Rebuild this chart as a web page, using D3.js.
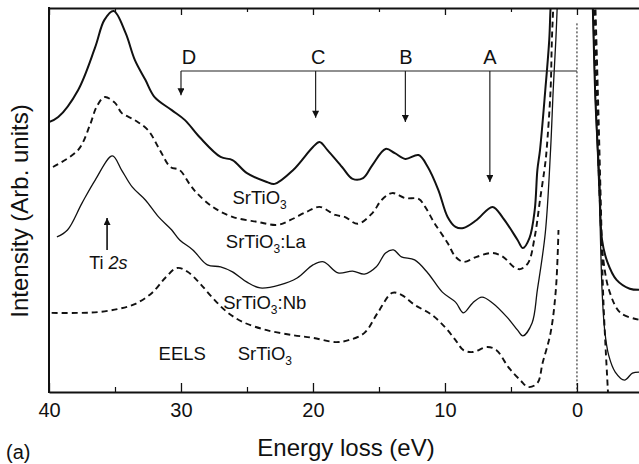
<!DOCTYPE html>
<html>
<head>
<meta charset="utf-8">
<script src="https://cdn.jsdelivr.net/npm/d3@7"></script>
<style>
  html, body { margin: 0; padding: 0; background: #fff; }
  svg { display: block; font-family: "Liberation Sans", Arial, Helvetica, sans-serif; }
</style>
</head>
<body>
<svg id="chart" width="639" height="464"></svg>
<script>
"use strict";

// ── data (energy loss in eV, intensity in arb. units 0..100) ─────────────────

const pureE = [40.0, 39.3, 37.8, 36.5, 35.8, 35.1, 34.2, 33.5, 32.7, 32.0, 30.7, 29.7, 28.6, 27.0,
  26.1, 25.0, 23.5, 22.9, 21.5, 20.0, 19.5, 18.9, 17.8, 17.0, 16.2, 15.5, 14.5, 13.8, 13.0, 12.0,
  11.3, 10.5, 9.8, 9.2, 8.6, 7.6, 6.4, 5.6, 4.5, 4.1, 3.6, 3.2, 3.0, 2.8, 2.4, 2.1, 2.0, 1.8,
  -1.1, -1.2, -1.4, -1.7, -1.9, -2.3, -3.0, -4.0, -4.7];
const pureI = [70.3, 71.6, 78.6, 89.8, 96.9, 99.2, 93.5, 86.5, 81.3, 76.8, 73.4, 70.8, 66.4, 61.2,
  60.4, 57.0, 54.7, 54.2, 57.8, 63.8, 65.1, 63.0, 58.6, 55.5, 55.7, 59.1, 63.3, 62.2, 60.7, 61.7,
  58.6, 52.6, 45.6, 43.0, 42.7, 44.8, 48.2, 45.3, 39.6, 37.5, 40.1, 47.4, 57.8, 63.0, 78.6, 91.7, 100, 110,
  110, 100, 76.0, 55.2, 39.6, 33.9, 29.2, 26.9, 26.6];

const laE = [39.7, 37.8, 36.9, 36.4, 35.8, 35.0, 34.5, 33.5, 32.5, 31.6, 30.8, 30.1, 29.3, 28.8,
  27.6, 26.1, 24.2, 22.7, 21.7, 20.5, 19.5, 18.3, 17.6, 16.6, 15.5, 14.8, 14.0, 13.0, 12.0, 11.5,
  10.8, 9.8, 9.2, 8.6, 7.6, 6.4, 5.6, 4.8, 4.3, 3.7, 3.2, 2.8, 2.4, 2.3, 2.0, 1.9, 1.8, 1.7,
  -1.2, -1.3, -1.5, -1.7, -2.0, -2.5, -3.3, -4.7];
const laI = [58.6, 63.0, 69.5, 74.2, 76.8, 75.3, 72.7, 70.8, 68.2, 63.0, 58.6, 57.8, 53.9, 51.8,
  48.2, 45.6, 44.3, 43.5, 44.8, 46.9, 48.2, 46.1, 45.6, 43.8, 46.6, 50.0, 51.8, 50.5, 50.3, 48.2,
  44.0, 38.8, 35.2, 33.9, 35.2, 36.2, 35.2, 32.6, 32.0, 33.6, 40.4, 50.0, 59.6, 63.0, 78.6, 91.7, 100, 110,
  110, 100, 76.0, 52.6, 34.4, 25.8, 20.6, 18.8];

const nbE = [39.4, 38.6, 37.5, 36.5, 35.2, 34.5, 33.7, 32.7, 31.7, 30.7, 30.1, 29.1, 28.0, 27.0,
  26.1, 25.0, 24.0, 22.5, 21.2, 20.0, 19.2, 18.1, 17.0, 16.1, 15.2, 14.5, 13.9, 13.3, 12.3, 11.3,
  10.2, 9.2, 8.6, 7.9, 7.2, 6.4, 5.3, 4.5, 4.1, 3.4, 3.0, 2.4, 2.0, 1.8, 1.6, 1.5, 1.4,
  -1.1, -1.2, -1.4, -1.7, -1.9, -2.1, -2.4, -2.9, -3.6, -4.2, -4.7];
const nbI = [40.4, 42.2, 49.2, 55.2, 61.5, 57.8, 53.4, 50.0, 45.6, 42.2, 39.6, 37.0, 33.1, 32.6,
  31.3, 28.6, 27.1, 27.9, 29.7, 33.1, 33.9, 31.0, 31.5, 30.7, 32.6, 36.2, 37.0, 35.2, 34.4, 31.0,
  26.0, 23.4, 20.6, 23.2, 24.7, 23.2, 19.5, 16.1, 14.6, 18.0, 26.6, 41.4, 63.0, 78.6, 91.7, 100, 110,
  110, 100, 76.0, 50.0, 26.6, 16.1, 9.6, 5.2, 3.1, 4.9, 5.2];

// EELS: left branch stops below the zero-loss peak (null marks the break)
const eelsE = [39.8, 37.8, 36.3, 34.8, 33.5, 32.2, 31.2, 30.3, 29.5, 28.6, 27.6, 26.5, 25.3, 23.5,
  21.5, 20.0, 18.3, 17.3, 16.1, 15.1, 14.0, 13.3, 12.3, 11.0, 10.0, 9.2, 8.6, 7.9, 6.8, 6.1,
  5.2, 4.3, 3.7, 3.0, 2.6, 2.0, 1.6, 1.4, null,
  -1.3, -1.4, -1.6, -1.8, -2.0, -2.3, -2.35];
const eelsI = [20.6, 20.6, 20.8, 21.6, 22.9, 25.8, 29.7, 32.3, 31.3, 28.4, 24.5, 20.8, 18.2, 16.1,
  14.8, 14.1, 13.0, 13.5, 15.4, 20.6, 25.8, 25.3, 22.7, 20.1, 16.9, 13.5, 10.9, 10.4, 11.7, 10.9,
  6.5, 3.1, 1.3, 2.3, 7.6, 15.4, 26.6, 42.2, null,
  110, 100, 76.0, 50.0, 24.0, 3.1, 0];

const xTicks      = [40, 30, 20, 10, 0];
const xMinorTicks = [35, 25, 15, 5];

// feature markers A-D hanging from one bracket
const featLabels    = ["D", "C", "B", "A"];
const featE         = [30.0, 19.8, 13.0, 6.6];
const featTipI      = [77.3, 71.4, 70.3, 54.7];
const featLabelE    = [29.4, 19.6, 12.95, 6.6];
const bracketI      = 83.6;
const bracketLabelI = 85.3;

// zero-loss marker
const zeroLineTop = 96;

// Ti 2s arrow
const tiE = 35.6, tiFromI = 37.0, tiTipI = 45.3, tiLabelE = 35.5, tiLabelI = 32.0;

// curve labels: [main, subscript, suffix, E start, intensity baseline]
const curveLabels = [
  ["SrTiO", "3", "",    26.1, 49.0],
  ["SrTiO", "3", ":La", 26.6, 37.5],
  ["SrTiO", "3", ":Nb", 26.8, 21.6],
  ["EELS",  "",  "",    31.7, 8.3],
  ["SrTiO", "3", "",    25.7, 8.3],
];

// ── chart ────────────────────────────────────────────────────────────────────

const svg = d3.select("#chart");
const pL = 49, pR = 639, pT = 8, pB = 392;

const x = d3.scaleLinear().domain([40, -4.7]).range([pL, pR]);
const y = d3.scaleLinear().domain([0, 100]).range([pB, pT]);

const defs = svg.append("defs");
defs.append("clipPath").attr("id", "plot-clip")
  .append("rect").attr("x", pL).attr("y", pT)
  .attr("width", pR - pL).attr("height", pB - pT);

defs.append("marker")
  .attr("id", "head").attr("viewBox", "0 0 10 10")
  .attr("refX", 10).attr("refY", 5)
  .attr("markerUnits", "userSpaceOnUse")
  .attr("markerWidth", 11).attr("markerHeight", 7)
  .attr("orient", "auto")
  .append("path").attr("d", "M0,0 L10,5 L0,10 z").attr("fill", "#111");

const plot = svg.append("g").attr("clip-path", "url(#plot-clip)");

const line = d3.line()
  .defined(d => d[0] !== null)
  .x(d => x(d[0]))
  .y(d => y(d[1]))
  .curve(d3.curveCatmullRom.alpha(0.5));

function series(es, is) {
  return es.map((e, i) => [e, is[i]]);
}

const curves = [
  { data: series(pureE, pureI), width: 2.0, dash: null },
  { data: series(laE, laI),     width: 1.9, dash: "6,4" },
  { data: series(nbE, nbI),     width: 1.3, dash: null },
  { data: series(eelsE, eelsI), width: 1.9, dash: "6,4" },
];

curves.forEach(c => {
  plot.append("path").datum(c.data)
    .attr("fill", "none")
    .attr("stroke", "#111")
    .attr("stroke-width", c.width)
    .attr("stroke-dasharray", c.dash)
    .attr("stroke-linejoin", "round")
    .attr("d", line);
});

// zero-loss dotted line
plot.append("line")
  .attr("x1", x(0)).attr("x2", x(0))
  .attr("y1", y(zeroLineTop)).attr("y2", y(0))
  .attr("stroke", "#111").attr("stroke-width", 1)
  .attr("stroke-dasharray", "2,2");

// bracket and arrows
plot.append("line")
  .attr("x1", x(featE[0])).attr("x2", x(0))
  .attr("y1", y(bracketI)).attr("y2", y(bracketI))
  .attr("stroke", "#222").attr("stroke-width", 1.2);

featE.forEach((e, i) => {
  plot.append("line")
    .attr("x1", x(e)).attr("x2", x(e))
    .attr("y1", y(bracketI)).attr("y2", y(featTipI[i]))
    .attr("stroke", "#222").attr("stroke-width", 1.2)
    .attr("marker-end", "url(#head)");
  svg.append("text")
    .attr("x", x(featLabelE[i])).attr("y", y(bracketLabelI))
    .attr("text-anchor", "middle")
    .attr("font-size", 20)
    .attr("fill", "#111")
    .text(featLabels[i]);
});

// Ti 2s
plot.append("line")
  .attr("x1", x(tiE)).attr("x2", x(tiE))
  .attr("y1", y(tiFromI)).attr("y2", y(tiTipI))
  .attr("stroke", "#111").attr("stroke-width", 1.6)
  .attr("marker-end", "url(#head)");
const ti = svg.append("text")
  .attr("x", x(tiLabelE)).attr("y", y(tiLabelI))
  .attr("text-anchor", "middle")
  .attr("font-size", 18).attr("fill", "#111");
ti.append("tspan").text("Ti ");
ti.append("tspan").attr("font-style", "italic").text("2s");

// curve labels
curveLabels.forEach(([main, sub, suffix, e, v]) => {
  const t = svg.append("text")
    .attr("x", x(e)).attr("y", y(v))
    .attr("font-size", 18.5).attr("fill", "#111");
  t.append("tspan").text(main);
  if (sub) t.append("tspan").attr("font-size", 12).attr("dy", 5).text(sub);
  if (suffix) t.append("tspan").attr("dy", -5).text(suffix);
});

// ── axes ─────────────────────────────────────────────────────────────────────

const axB = svg.append("g").attr("transform", `translate(0,${pB})`)
  .call(d3.axisBottom(x).tickValues(xTicks).tickSizeInner(-9).tickSizeOuter(0)
    .tickPadding(11).tickFormat(d3.format("d")));
axB.select(".domain").attr("stroke", "#111").attr("stroke-width", 2);
axB.selectAll(".tick line").attr("stroke", "#111").attr("stroke-width", 1.3);
axB.selectAll(".tick text").attr("font-size", 20).attr("fill", "#111")
  .attr("font-family", "Liberation Sans, Arial, sans-serif");

const axBm = svg.append("g").attr("transform", `translate(0,${pB})`)
  .call(d3.axisBottom(x).tickValues(xMinorTicks).tickSizeInner(-5).tickSizeOuter(0).tickFormat(""));
axBm.select(".domain").remove();
axBm.selectAll(".tick line").attr("stroke", "#111").attr("stroke-width", 1.2);

const axT = svg.append("g").attr("transform", `translate(0,${pT})`)
  .call(d3.axisTop(x).tickValues(xTicks).tickSizeInner(-7).tickSizeOuter(0).tickFormat(""));
axT.select(".domain").attr("stroke", "#111").attr("stroke-width", 2);
axT.selectAll(".tick line").attr("stroke", "#111").attr("stroke-width", 1.3);

const axTm = svg.append("g").attr("transform", `translate(0,${pT})`)
  .call(d3.axisTop(x).tickValues(xMinorTicks).tickSizeInner(-4).tickSizeOuter(0).tickFormat(""));
axTm.select(".domain").remove();
axTm.selectAll(".tick line").attr("stroke", "#111").attr("stroke-width", 1.2);

svg.append("line")
  .attr("x1", pL).attr("x2", pL).attr("y1", pT - 1).attr("y2", pB + 1)
  .attr("stroke", "#111").attr("stroke-width", 2);

// axis titles
svg.append("text")
  .attr("transform", `translate(28,${(pT + pB) / 2 + 11}) rotate(-90)`)
  .attr("text-anchor", "middle")
  .attr("font-size", 24).attr("fill", "#111")
  .text("Intensity (Arb. units)");

svg.append("text")
  .attr("x", 346).attr("y", 456)
  .attr("text-anchor", "middle")
  .attr("font-size", 24).attr("fill", "#111")
  .text("Energy loss (eV)");

svg.append("text")
  .attr("x", 6).attr("y", 459)
  .attr("font-size", 20).attr("fill", "#111")
  .text("(a)");
</script>
</body>
</html>
